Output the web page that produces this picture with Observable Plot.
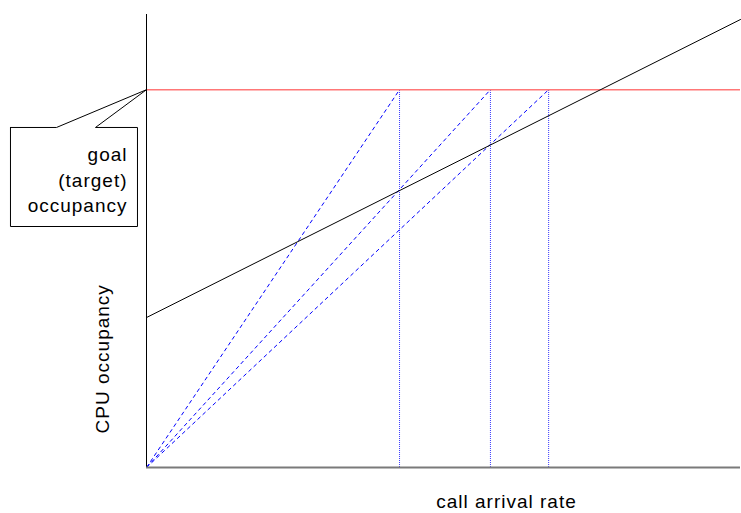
<!DOCTYPE html>
<html>
<head>
<meta charset="utf-8">
<script src="https://cdn.jsdelivr.net/npm/d3@7"></script>
<script src="https://cdn.jsdelivr.net/npm/@observablehq/plot@0.6"></script>
<style>
  html, body { margin: 0; padding: 0; background: #fff; }
  #chart svg { display: block; overflow: visible; }
</style>
</head>
<body>
<div id="chart"></div>
<script>
// Values (abstract units: rate 0..1, occupancy 0..1)
const goalOccupancy = 0.834;
const loadRate = [0, 1];
const loadOccupancy = [0.331, 0.989];
const iterationRates = [0.426, 0.579, 0.677];
const xAxisLabel = "call arrival rate";
const yAxisLabel = "CPU occupancy";
const calloutLines = ["goal", "(target)", "occupancy"];
// Callout outline (in chart units, pointing at the goal on the y axis)
const calloutX = [-0.229, -0.1515, 0, -0.0859, -0.0152, -0.0152, -0.229, -0.229];
const calloutY = [0.7506, 0.7506, goalOccupancy, 0.7506, 0.7506, 0.532, 0.532, 0.7506];
const calloutTextX = -0.032;
const calloutTextY = [0.6755, 0.6203, 0.5651];

const loadLine = loadRate.map((r, i) => ({r, o: loadOccupancy[i]}));
const callout = calloutX.map((x, i) => ({x, y: calloutY[i]}));
const calloutText = calloutLines.map((t, i) => ({t, y: calloutTextY[i]}));

const font = "'Liberation Sans', Arial, sans-serif";

const chart = Plot.plot({
  width: 741,
  height: 513,
  marginLeft: 146,
  marginRight: 1,
  marginTop: 14,
  marginBottom: 46,
  x: {domain: [0, 1], axis: null},
  y: {domain: [0, 1], axis: null},
  style: {fontFamily: font, fontSize: "19px", letterSpacing: "1px", background: "#fff"},
  marks: [
    // dotted verticals
    Plot.ruleX(iterationRates, {x: d => d, y1: 0, y2: goalOccupancy, stroke: "#3a3aff", strokeDasharray: "1,1", strokeWidth: 1}),
    // dashed lines from origin
    Plot.link(iterationRates, {x1: 0, y1: 0, x2: d => d, y2: goalOccupancy, stroke: "#0000ff", strokeDasharray: "4,3", strokeWidth: 1}),
    // goal line
    Plot.ruleY([goalOccupancy], {stroke: "#ff7777", strokeWidth: 1.6}),
    // load line
    Plot.line(loadLine, {x: "r", y: "o", stroke: "#000", strokeWidth: 1}),
    // axes
    Plot.ruleX([0], {y1: 0, y2: 1, stroke: "#000", strokeWidth: 1}),
    Plot.ruleY([0], {stroke: "#7a7a7a", strokeWidth: 2}),
    // callout
    Plot.line(callout, {x: "x", y: "y", stroke: "#000", strokeWidth: 1}),
    Plot.text(calloutText, {x: calloutTextX, y: "y", text: "t", textAnchor: "end", lineAnchor: "bottom", fill: "#000", fontSize: 19}),
    // axis labels
    Plot.text([xAxisLabel], {x: 0.606, y: -0.0905, text: d => d, textAnchor: "middle", lineAnchor: "bottom", fill: "#000", fontSize: 19}),
    Plot.text([yAxisLabel], {x: -0.0623, y: 0.24, text: d => d, rotate: -90, textAnchor: "middle", lineAnchor: "bottom", fill: "#000", fontSize: 19})
  ]
});
document.getElementById("chart").appendChild(chart);
</script>
</body>
</html>
